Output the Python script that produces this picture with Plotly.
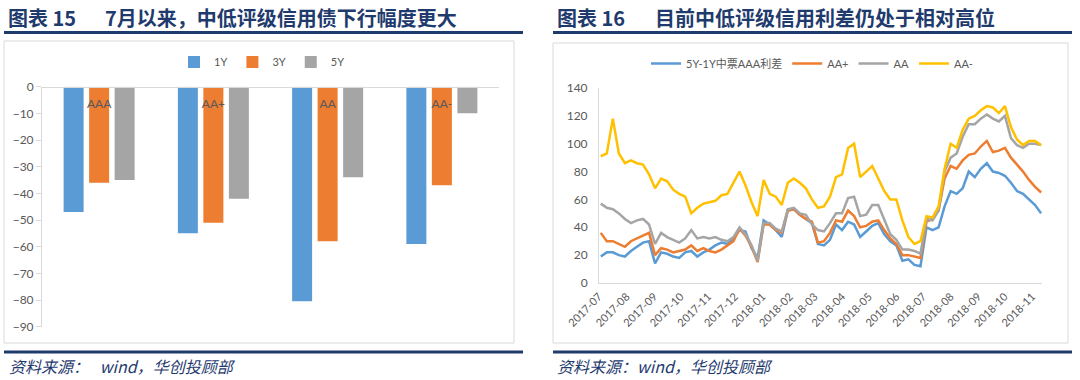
import plotly.graph_objects as go
import pandas as pd

W, H = 1080, 380

# ---------------- Left chart data (图表15) ----------------
ratings = ["AAA", "AA+", "AA", "AA-"]
chg_1y = [-47, -55, -80.5, -59]
chg_3y = [-36, -51, -58, -37]
chg_5y = [-35, -42, -34, -10]

# ---------------- Right chart data (图表16) ----------------
spread_dates = pd.date_range("2017-07-03", "2018-11-11", periods=74)
aaa_5y1y = [19, 22, 22, 20, 19, 23, 26, 29, 30, 14, 22, 21, 19, 18, 22, 23, 19, 22, 24,
            27, 29, 28, 32, 38, 37, 25, 18, 45, 42, 38, 33, 52, 53, 49, 46, 43, 28,
            27, 31, 42, 38, 44, 42, 33, 37, 41, 43, 35, 30, 27, 16, 17, 13, 12, 40,
            38, 40, 55, 66, 64, 68, 80, 76, 82, 86, 80, 79, 77, 72, 66, 64, 60, 56, 50]
aa_plus = [36, 30, 30, 28, 26, 30, 32, 34, 36, 20, 25, 24, 22, 23, 24, 27, 23, 25, 23,
           22, 24, 27, 30, 39, 34, 26, 15, 42, 42, 38, 36, 52, 53, 49, 46, 44, 29,
           30, 36, 45, 44, 52, 48, 40, 41, 44, 45, 38, 32, 28, 20, 20, 19, 18, 44,
           46, 52, 75, 84, 82, 88, 92, 93, 98, 102, 94, 95, 97, 90, 85, 80, 74, 69, 65]
aa = [57, 54, 53, 50, 46, 43, 45, 46, 42, 28, 36, 33, 31, 29, 32, 38, 32, 33, 32,
      33, 31, 30, 33, 40, 35, 27, 16, 43, 43, 39, 37, 53, 54, 50, 49, 42, 38,
      37, 43, 50, 50, 61, 62, 48, 49, 56, 56, 45, 35, 31, 24, 24, 23, 21, 46,
      45, 52, 80, 90, 93, 105, 114, 114, 118, 121, 118, 116, 120, 104, 99, 97, 100, 100, 99]
aa_minus = [91, 93, 118, 93, 86, 88, 86, 85, 78, 68, 75, 73, 67, 64, 62, 50, 54, 57, 58,
            59, 63, 64, 72, 80, 70, 58, 48, 74, 64, 62, 56, 72, 75, 72, 68, 60, 54,
            55, 62, 76, 78, 97, 100, 76, 80, 84, 75, 66, 60, 60, 45, 33, 28, 30, 48,
            47, 55, 82, 100, 97, 110, 118, 120, 124, 127, 126, 122, 127, 112, 103, 99, 102, 102, 99]
month_ticks = ["2017-07", "2017-08", "2017-09", "2017-10", "2017-11", "2017-12",
               "2018-01", "2018-02", "2018-03", "2018-04", "2018-05", "2018-06",
               "2018-07", "2018-08", "2018-09", "2018-10", "2018-11"]

BLUE, ORANGE, GRAY, YELLOW = "#5B9BD5", "#ED7D31", "#A5A5A5", "#FFC000"
NAVY = "#1F3B6E"
AXIS = "#D9D9D9"
TXT = "#595959"
FONT = "Lato, Noto Sans CJK SC, sans-serif"
CJK = "Noto Sans CJK SC"


def px(x):
    return x / W


def py(y):
    return 1 - y / H


fig = go.Figure()

for name, vals, col in [("1Y", chg_1y, BLUE), ("3Y", chg_3y, ORANGE), ("5Y", chg_5y, GRAY)]:
    fig.add_trace(go.Bar(x=ratings, y=vals, name=name, marker_color=col,
                         marker_line_width=0, xaxis="x", yaxis="y", legend="legend"))

for name, vals, col in [("5Y-1Y中票AAA利差", aaa_5y1y, BLUE), ("AA+", aa_plus, ORANGE),
                        ("AA", aa, GRAY), ("AA-", aa_minus, YELLOW)]:
    fig.add_trace(go.Scatter(x=spread_dates, y=vals, name=name, mode="lines",
                             line=dict(color=col, width=2.5), xaxis="x2", yaxis="y2",
                             legend="legend2"))

fig.update_layout(
    width=W, height=H,
    margin=dict(l=0, r=0, t=0, b=0, pad=0, autoexpand=False),
    paper_bgcolor="white", plot_bgcolor="white",
    font=dict(family=FONT, color=TXT, size=12),
    bargap=0.33, bargroupgap=0.216,
    showlegend=True,
    xaxis=dict(domain=[px(42), px(499)], anchor="free", position=py(86.7),
               showline=True, linecolor=AXIS, linewidth=1, automargin=False,
               ticks="outside", ticklen=6, tickcolor="rgba(0,0,0,0)",
               tickfont=dict(size=12, color=TXT), showgrid=False, zeroline=False),
    yaxis=dict(domain=[py(326.7), py(86.7)], range=[-90, 0], dtick=10,
               anchor="x", showline=True, linecolor=AXIS, linewidth=1, automargin=False,
               ticks="outside", ticklen=5, tickcolor=AXIS,
               tickfont=dict(size=12, color=TXT), showgrid=False, zeroline=False),
    xaxis2=dict(domain=[px(599), px(1042)], anchor="y2", type="date",
                range=["2017-07-01", "2018-11-12"], automargin=False,
                tickvals=[m + "-01" for m in month_ticks], ticktext=month_ticks,
                tickangle=-45, showline=True, linecolor=AXIS, linewidth=1,
                ticks="outside", ticklen=2, tickcolor="rgba(0,0,0,0)",
                tickfont=dict(size=11, color=TXT), showgrid=False, zeroline=False),
    yaxis2=dict(domain=[py(283), py(88)], range=[0, 140], dtick=20, anchor="x2",
                showline=True, linecolor=AXIS, linewidth=1, automargin=False,
                ticks="outside", ticklen=8, tickcolor="rgba(0,0,0,0)",
                tickfont=dict(size=12, color=TXT), showgrid=False, zeroline=False),
    legend=dict(orientation="h", x=px(262), xanchor="center", y=py(62), yanchor="middle",
                font=dict(size=11, color=TXT), itemwidth=30, bgcolor="rgba(0,0,0,0)"),
    legend2=dict(orientation="h", x=px(812), xanchor="center", y=py(63.5), yanchor="middle",
                 font=dict(size=11, color=TXT), itemwidth=30, bgcolor="rgba(0,0,0,0)"),
)

shapes = [
    dict(type="rect", xref="paper", yref="paper", x0=px(4), x1=px(514), y0=py(343), y1=py(41),
         line=dict(color=AXIS, width=1), layer="below"),
    dict(type="rect", xref="paper", yref="paper", x0=px(553), x1=px(1068), y0=py(343), y1=py(43),
         line=dict(color=AXIS, width=1), layer="below"),
    dict(type="line", xref="paper", yref="paper", x0=px(4), x1=px(523), y0=py(32.5), y1=py(32.5),
         line=dict(color=NAVY, width=3)),
    dict(type="line", xref="paper", yref="paper", x0=px(553), x1=px(1072), y0=py(32.5), y1=py(32.5),
         line=dict(color=NAVY, width=3)),
    dict(type="line", xref="paper", yref="paper", x0=px(4), x1=px(523), y0=py(352), y1=py(352),
         line=dict(color=NAVY, width=3)),
    dict(type="line", xref="paper", yref="paper", x0=px(553), x1=px(1072), y0=py(352), y1=py(352),
         line=dict(color=NAVY, width=3)),
]
fig.update_layout(shapes=shapes)

title_font = dict(family=CJK, size=20, color=NAVY, weight="bold")
foot_font = dict(family=CJK, size=16, color=NAVY, style="italic")
annos = [
    dict(text="图表 15", x=px(6), y=py(17), xanchor="left", yanchor="middle", font=title_font),
    dict(text="7月以来，中低评级信用债下行幅度更大", x=px(103), y=py(17), xanchor="left",
         yanchor="middle", font=title_font),
    dict(text="图表 16", x=px(555), y=py(17), xanchor="left", yanchor="middle", font=title_font),
    dict(text="目前中低评级信用利差仍处于相对高位", x=px(653), y=py(17), xanchor="left",
         yanchor="middle", font=title_font),
    dict(text="资料来源：   wind，华创投顾部", x=px(7), y=py(366), xanchor="left",
         yanchor="middle", font=foot_font),
    dict(text="资料来源：wind，华创投顾部", x=px(555), y=py(366), xanchor="left",
         yanchor="middle", font=foot_font),
]
for a in annos:
    a.update(xref="paper", yref="paper", showarrow=False)
fig.update_layout(annotations=annos)

fig.write_html(
    "out.html",
    config={"displayModeBar": False},
    post_script="document.body.style.margin='0px';document.body.style.overflow='hidden';",
)
